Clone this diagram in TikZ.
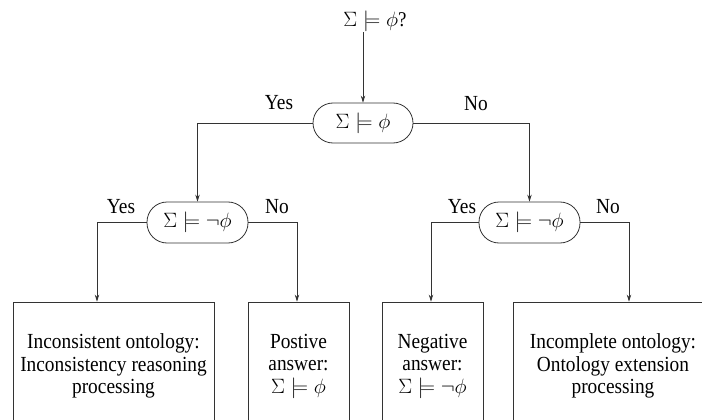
\documentclass[tikz,border=0pt]{standalone}
\usepackage{fontspec}
\setmainfont{Liberation Serif}[FakeStretch=0.9]
\usetikzlibrary{arrows.meta}
\begin{document}
\begin{tikzpicture}[x=1pt,y=-1pt,
  txt/.style={font=\fontsize{21.5}{22.5}\selectfont},
  mth/.style={font=\fontsize{21}{23}\selectfont},
  line/.style={draw=black!80, line width=0.8pt},
  arr/.style={line, -{Stealth[length=7pt,width=4.5pt]}},
  test/.style={line, mth, rounded corners=20pt, minimum width=100pt,
    minimum height=40pt, inner sep=0pt},
  outcome/.style={line, txt, minimum height=128pt, align=center, inner sep=0pt},
  lab/.style={txt, inner sep=0pt}]
\clip (0,0) rectangle (702,420);

% question and decision capsules
\node[mth, anchor=base] (q) at (375,27) {$\Sigma\models\phi$?};
\node[test] (c1) at (363,123) {$\Sigma\models\phi$};
\node[test, minimum width=101pt, minimum height=41pt] (c2) at (197.5,222.5) {$\Sigma\models\neg\phi$};
\node[test, minimum width=101pt, minimum height=41pt] (c3) at (529.5,222.5) {$\Sigma\models\neg\phi$};

% outcome boxes (their lower edges run past the page)
\node[outcome, minimum width=201pt] (b1) at (113.5,366)
  {Inconsistent ontology:\\Inconsistency reasoning\\processing};
\node[outcome, minimum width=101pt] (b2) at (298.5,366)
  {Postive\\answer:\\$\Sigma\models\phi$};
\node[outcome, minimum width=101pt] (b3) at (432.5,366)
  {Negative\\answer:\\$\Sigma\models\neg\phi$};
\node[outcome, minimum width=200pt] (b4) at (613,366)
  {Incomplete ontology:\\Ontology extension\\processing};

% branch labels
\node[lab] (y1) at (279,103) {Yes};
\node[lab] (n1) at (476,104) {No};
\node[lab] (y2) at (121,207) {Yes};
\node[lab] (n2) at (277,207) {No};
\node[lab] (y3) at (462,207) {Yes};
\node[lab] (n3) at (608,207) {No};

% connectors
\coordinate (qs) at (363,32);
\draw[arr] (qs) -- (c1.north);
\draw[arr] (c1.west) -| (c2.north);
\draw[arr] (c1.east) -| (c3.north);
\draw[arr] (c2.west) -| ([xshift=-16.5pt]b1.north);
\draw[arr] (c2.east) -| ([xshift=-1.5pt]b2.north);
\draw[arr] (c3.west) -| ([xshift=-1.5pt]b3.north);
\draw[arr] (c3.east) -| ([xshift=16pt]b4.north);
\end{tikzpicture}
\end{document}
